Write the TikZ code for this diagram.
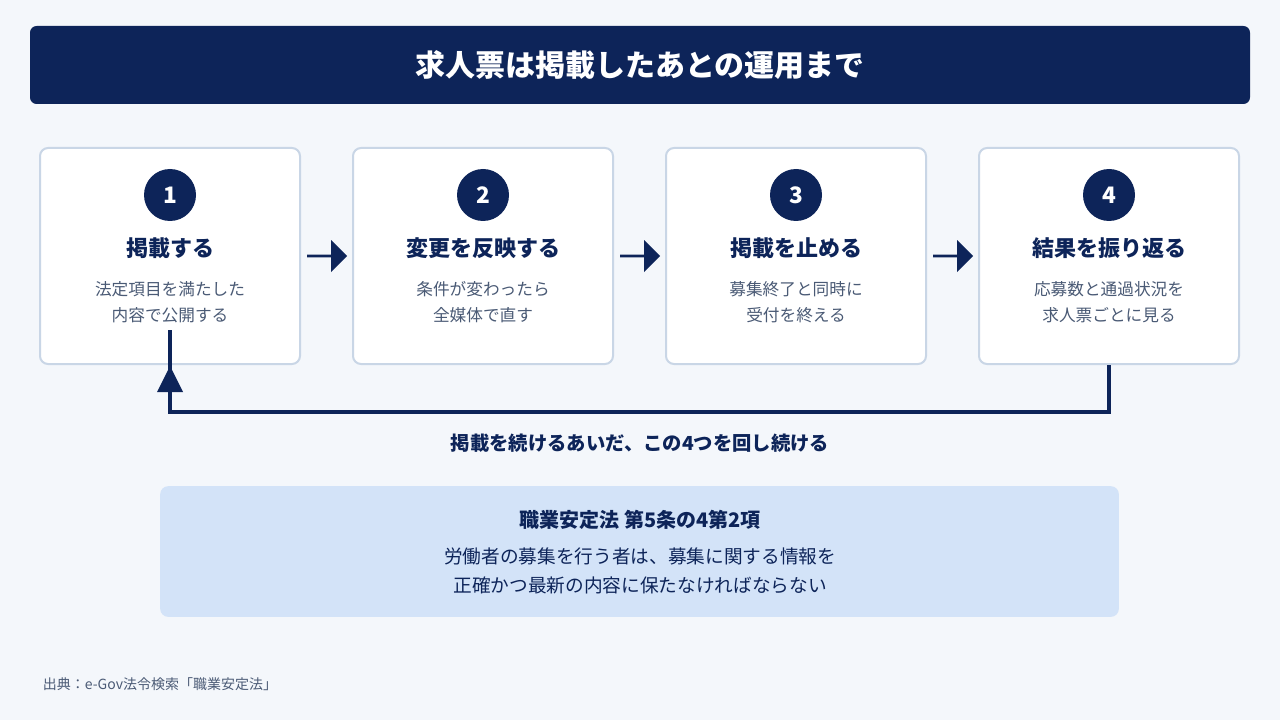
\documentclass[tikz,border=0pt]{standalone}
\usepackage{fontspec}
\setmainfont{Noto Sans CJK JP}
\usetikzlibrary{positioning,shapes.arrows}
\definecolor{navy}{RGB}{13,36,89}
\definecolor{bgpage}{RGB}{244,247,251}
\definecolor{cardline}{RGB}{201,214,230}
\definecolor{desctext}{RGB}{74,90,117}
\definecolor{lawfill}{RGB}{211,227,248}
\tikzset{every picture/.style={line width=0.75pt}}
\tikzset{
  card/.style={draw=cardline, line width=1.5pt, fill=white, rounded corners=6pt, minimum width=195pt, minimum height=162pt},
  numdot/.style={circle, fill=navy, minimum size=39pt, inner sep=0pt, text=white, font=\fontsize{17}{17}\selectfont\bfseries},
  stephead/.style={text=navy, font=\fontsize{16.5}{18}\selectfont\bfseries},
  desc/.style={text=desctext, align=center, font=\fontsize{12.5}{19.5}\selectfont},
  flow/.style={single arrow, fill=navy, minimum height=30pt, minimum width=24pt, single arrow head extend=4pt, inner sep=0pt, single arrow tip angle=90},
}
\begin{document}
\begin{tikzpicture}[x=0.75pt,y=0.75pt,yscale=-1,xscale=1]
\fill[bgpage] (0,0) rectangle (1280,720);
\useasboundingbox (0,0) rectangle (1280,720);

% Title
\node (titlebar) [fill=navy, rounded corners=5pt, minimum width=915pt, minimum height=58.5pt] at (640,65) {};
\node (title) [text=white, font=\fontsize{22.5}{24}\selectfont\bfseries] at (640,65) {求人票は掲載したあとの運用まで};

% Cards
\node (card1) [card] at (170,256) {};
\node (card2) [card] at (483,256) {};
\node (card3) [card] at (796,256) {};
\node (card4) [card] at (1109,256) {};

\node (num1) [numdot] at (170,195) {1};
\node (num2) [numdot] at (483,195) {2};
\node (num3) [numdot] at (796,195) {3};
\node (num4) [numdot] at (1109,195) {4};

\node (step1) [stephead] at (170,248) {掲載する};
\node (step2) [stephead] at (483,248) {変更を反映する};
\node (step3) [stephead] at (796,248) {掲載を止める};
\node (step4) [stephead] at (1109,248) {結果を振り返る};

\node (desc1) [desc] at (170,302) {法定項目を満たした\\内容で公開する};
\node (desc2) [desc] at (483,302) {条件が変わったら\\全媒体で直す};
\node (desc3) [desc] at (796,302) {募集終了と同時に\\受付を終える};
\node (desc4) [desc] at (1109,302) {応募数と通過状況を\\求人票ごとに見る};

% Flow arrows
\node (arr1) [flow] at (326.5,256) {};
\node (arr2) [flow] at (639.5,256) {};
\node (arr3) [flow] at (952.5,256) {};

% Loop back
\coordinate (loopR) at (1109,412);
\coordinate (loopL) at (170,412);
\draw[navy, line width=3pt] (card4.south) -- (loopR) -- (loopL) -- ([yshift=-26]card1.south);
\fill[navy] (card1.south) ++(0,1) -- ++(-13,26) -- ++(26,0) -- cycle;
\node (looptext) [text=navy, font=\fontsize{14.5}{16}\selectfont\bfseries] at (640,443) {掲載を続けるあいだ、この4つを回し続ける};

% Law
\node (lawbox) [fill=lawfill, rounded corners=6pt, minimum width=719pt, minimum height=98pt] at (639.5,551.5) {};
\node (lawtitle) [text=navy, font=\fontsize{15}{16}\selectfont\bfseries] at (640,520) {職業安定法\ 第5条の4第2項};
\node (lawtext) [text=navy, align=center, font=\fontsize{14}{22}\selectfont] at (640,571) {労働者の募集を行う者は、募集に関する情報を\\正確かつ最新の内容に保たなければならない};

% Source
\node (source) [anchor=west, text=desctext, font=\fontsize{10.5}{12}\selectfont] at (38,684) {出典：e-Gov法令検索「職業安定法」};
\end{tikzpicture}
\end{document}
